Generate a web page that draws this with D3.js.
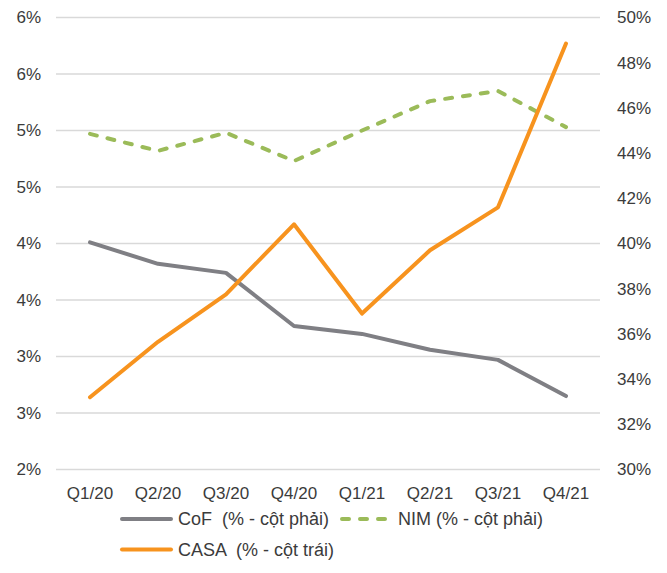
<!DOCTYPE html>
<html>
<head>
<meta charset="utf-8">
<script src="https://cdn.jsdelivr.net/npm/d3@7"></script>
<style>
  html, body { margin: 0; padding: 0; background: #fff; }
  svg { display: block; font-family: "Liberation Sans", Arial, sans-serif; }
</style>
</head>
<body>
<svg id="chart" width="667" height="573"></svg>
<script>
// Quarters on the x axis
const quarters = ["Q1/20", "Q2/20", "Q3/20", "Q4/20", "Q1/21", "Q2/21", "Q3/21", "Q4/21"];

// Series values (%)
const cof  = [4.01, 3.82, 3.74, 3.27, 3.20, 3.06, 2.97, 2.65];
const nim  = [4.97, 4.82, 4.98, 4.73, 5.00, 5.26, 5.35, 5.03];
const casa = [33.2, 35.65, 37.75, 40.85, 36.9, 39.7, 41.6, 48.85];

// Axis ticks
const leftTicks = [2, 2.5, 3, 3.5, 4, 4.5, 5, 5.5, 6];
const leftTickLabels = ["2%", "3%", "3%", "4%", "4%", "5%", "5%", "6%", "6%"];
const rightTicks = [30, 32, 34, 36, 38, 40, 42, 44, 46, 48, 50];

// Legend entries
const legendItems = [
  { label: "CoF  (% - cột phải)", color: "#7f7f84", dash: null, row: 0, x: 120 },
  { label: "NIM (% - cột phải)", color: "#9bbb59", dash: "7,11", row: 0, x: 340 },
  { label: "CASA  (% - cột trái)", color: "#f7931e", dash: null, row: 1, x: 120 }
];

const svg = d3.select("#chart");
const textColor = "#3b3b3b";
const fontSize = 17;
const legendFontSize = 18;

const plot = { left: 56, right: 600, top: 17.5, bottom: 469.5 };

const x = d3.scaleBand().domain(quarters).range([plot.left, plot.right]);
const yL = d3.scaleLinear().domain([2, 6]).range([plot.bottom, plot.top]);
const yR = d3.scaleLinear().domain([30, 50]).range([plot.bottom, plot.top]);

// Horizontal gridlines
svg.append("g")
  .selectAll("line")
  .data(leftTicks)
  .join("line")
  .attr("x1", plot.left).attr("x2", plot.right)
  .attr("y1", d => yL(d)).attr("y2", d => yL(d))
  .attr("stroke", "#d9d9d9")
  .attr("stroke-width", 1.5);

// Left axis labels
const leftAxis = d3.axisLeft(yL).tickValues(leftTicks)
  .tickFormat((d, i) => leftTickLabels[i]).tickSize(0).tickPadding(15);
const gL = svg.append("g").attr("transform", `translate(${plot.left},0)`).call(leftAxis);
gL.select(".domain").remove();
gL.selectAll("text").attr("fill", textColor).style("font-size", fontSize + "px")
  .style("font-family", "Liberation Sans, Arial, sans-serif");

// Right axis labels
const rightAxis = d3.axisRight(yR).tickValues(rightTicks)
  .tickFormat(d => d + "%").tickSize(0).tickPadding(17);
const gR = svg.append("g").attr("transform", `translate(${plot.right},0)`).call(rightAxis);
gR.select(".domain").remove();
gR.selectAll("text").attr("fill", textColor).style("font-size", fontSize + "px")
  .style("font-family", "Liberation Sans, Arial, sans-serif");

// Category axis labels
const bottomAxis = d3.axisBottom(x).tickSize(0).tickPadding(17);
const gB = svg.append("g").attr("transform", `translate(0,${plot.bottom})`).call(bottomAxis);
gB.select(".domain").remove();
gB.selectAll("text").attr("fill", textColor).style("font-size", fontSize + "px")
  .style("font-family", "Liberation Sans, Arial, sans-serif");

const cx = d => x(d) + x.bandwidth() / 2;

function drawLine(values, yScale, color, dash) {
  const line = d3.line()
    .x((d, i) => cx(quarters[i]))
    .y(d => yScale(d));
  const p = svg.append("path")
    .datum(values)
    .attr("d", line)
    .attr("fill", "none")
    .attr("stroke", color)
    .attr("stroke-width", 4)
    .attr("stroke-linejoin", "round")
    .attr("stroke-linecap", "round");
  if (dash) p.attr("stroke-dasharray", dash);
}

drawLine(cof, yL, "#7f7f84", null);
drawLine(nim, yL, "#9bbb59", "7,11");
drawLine(casa, yR, "#f7931e", null);

// Legend
const rowY = [519, 549.5];
const leg = svg.append("g");
legendItems.forEach(item => {
  const y = rowY[item.row];
  const l = leg.append("line")
    .attr("x1", item.x + 2).attr("x2", item.x + 51)
    .attr("y1", y).attr("y2", y)
    .attr("stroke", item.color)
    .attr("stroke-width", 4)
    .attr("stroke-linecap", "round");
  if (item.dash) l.attr("stroke-dasharray", item.dash);
  leg.append("text")
    .attr("x", item.x + 58)
    .attr("y", y)
    .attr("dy", "0.36em")
    .attr("fill", textColor)
    .style("font-size", legendFontSize + "px")
    .style("white-space", "pre")
    .attr("xml:space", "preserve")
    .text(item.label);
});
</script>
</body>
</html>
